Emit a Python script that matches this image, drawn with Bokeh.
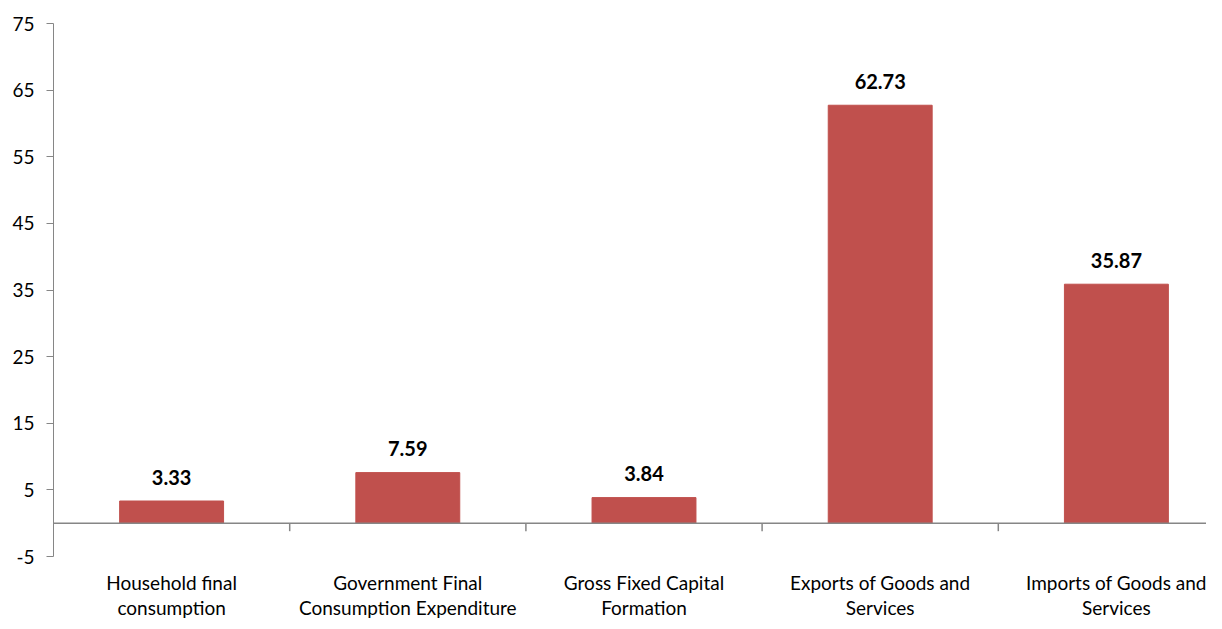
from bokeh.plotting import figure
from bokeh.models import FixedTicker, Span, Range1d
from bokeh.core.properties import value
from bokeh.embed import file_html
from bokeh.resources import INLINE

categories = ["Household final\nconsumption",
              "Government Final\nConsumption Expenditure",
              "Gross Fixed Capital\nFormation",
              "Exports of Goods and\nServices",
              "Imports of Goods and\nServices"]
values = [3.33, 7.59, 3.84, 62.73, 35.87]
value_labels = ["3.33", "7.59", "3.84", "62.73", "35.87"]
y_ticks = [-5, 5, 15, 25, 35, 45, 55, 65, 75]

FONT = "Lato"
W, H = 1206, 621
top_px, bottom_px = 23, 0
left_px = 53
frame_h = H - top_px - bottom_px
y_top, y_axis_min = 75, -5
px_per_unit = 533 / 80.0
y_bottom = y_top - frame_h / px_per_unit
frame_w = W - left_px
cat_px = 236.2
x_end = frame_w / cat_px

p = figure(width=W, height=H, output_backend="svg", toolbar_location=None,
           x_range=Range1d(0, x_end), y_range=Range1d(y_bottom, y_top),
           min_border_left=left_px, min_border_right=0,
           min_border_top=top_px, min_border_bottom=bottom_px)
p.outline_line_color = None
p.xgrid.visible = False
p.ygrid.visible = False
p.xaxis.visible = False

ya = p.yaxis[0]
ya.ticker = FixedTicker(ticks=y_ticks)
ya.major_label_overrides = {t: str(t) for t in y_ticks}
ya.bounds = (y_axis_min, y_top)
ya.axis_line_color = "#868686"
ya.major_tick_line_color = "#868686"
ya.major_tick_out = 7
ya.major_tick_in = 0
ya.minor_tick_line_color = None
ya.major_label_text_font = FONT
ya.major_label_text_font_size = "19px"
ya.major_label_text_color = "#000000"
ya.major_label_standoff = 12

centers = [i + 0.5 for i in range(len(values))]

p.vbar(x=centers, top=values, bottom=0, width=0.44,
       fill_color="#C0504D", line_color="#C0504D")

p.add_layout(Span(location=0, dimension="width", line_color="#868686", line_width=1.5))

bounds_x = [i for i in range(1, len(values))]
p.segment(x0=bounds_x, y0=[0] * len(bounds_x), x1=bounds_x,
          y1=[-8 / px_per_unit] * len(bounds_x), line_color="#868686", line_width=1.5)

p.text(x=centers, y=values, text=value_labels, text_align="center",
       text_baseline="middle", y_offset=-24, text_font=value(FONT),
       text_font_size="20px", text_font_style="bold", text_color="#000000")

p.text(x=centers, y=[y_axis_min] * len(centers), text=categories, text_align="center",
       text_baseline="top", y_offset=14, text_font=value(FONT),
       text_font_size="19px", text_color="#000000", text_line_height=1.1)

open("out.html", "w").write(file_html(p, INLINE))
